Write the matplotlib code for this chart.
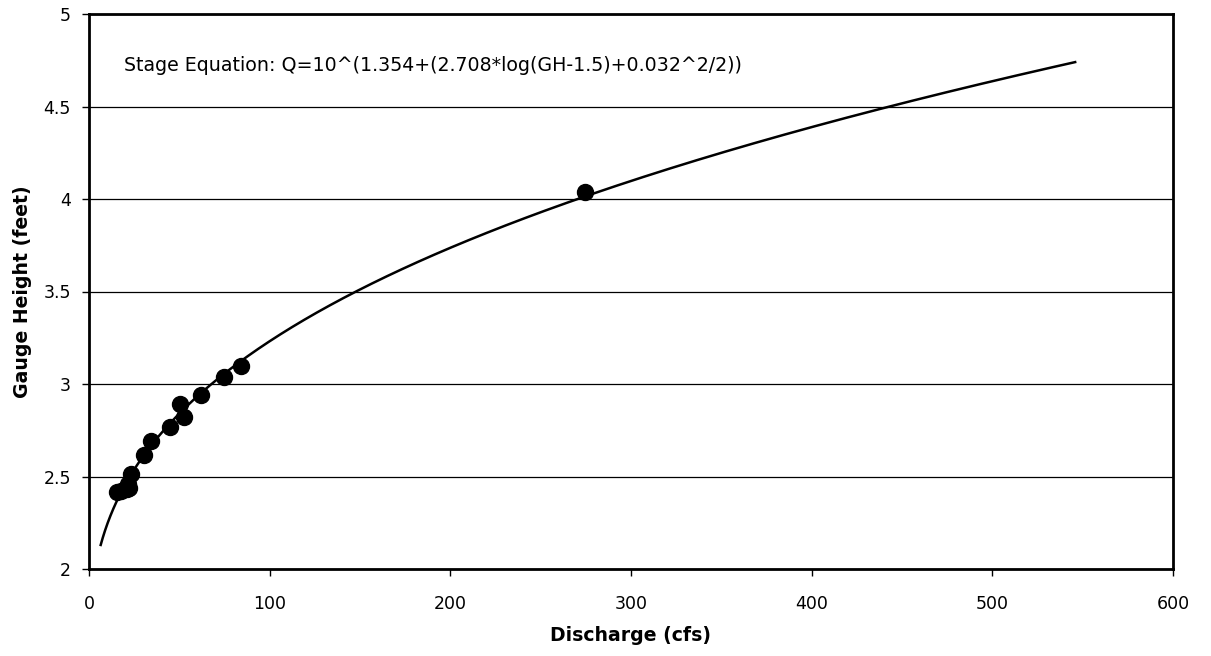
import numpy as np
import matplotlib
matplotlib.use("Agg")
import matplotlib.pyplot as plt

# Observed measurements (discharge cfs, gauge height ft)
discharge = [15.7, 17.5, 21.0, 21.5, 22.0, 23.4, 30.5, 34.1, 44.8, 50.2, 52.6, 61.8, 74.5, 83.9, 274.5]
gauge_height = [2.415, 2.42, 2.43, 2.46, 2.44, 2.515, 2.615, 2.69, 2.765, 2.89, 2.82, 2.94, 3.04, 3.10, 4.04]

# Rating curve parameters (from the stage equation shown in the chart)
a_coef = 1.354
b_coef = 2.708
offset = 1.5
se = 0.032
gh_min, gh_max = 2.13, 4.74

x_ticks = [0, 100, 200, 300, 400, 500, 600]
y_ticks = [2, 2.5, 3, 3.5, 4, 4.5, 5]
y_tick_labels = ["2", "2.5", "3", "3.5", "4", "4.5", "5"]

fig = plt.figure(figsize=(12.11, 6.56), dpi=100)
ax = fig.add_axes([89/1211, 1 - 569/656, (1173-89)/1211, (569-14)/656])

gh = np.linspace(gh_min, gh_max, 400)
q = 10 ** (a_coef + (b_coef * np.log10(gh - offset) + se**2 / 2))
ax.plot(q, gh, color="black", lw=1.8, zorder=3)
ax.plot(discharge, gauge_height, "o", color="black", ms=11.5, zorder=4)

ax.set_xlim(0, 600)
ax.set_ylim(2, 5)
ax.set_xticks(x_ticks)
ax.set_yticks(y_ticks)
ax.set_yticklabels(y_tick_labels)
ax.yaxis.grid(True, color="black", lw=0.9)
ax.set_axisbelow(True)
for s in ax.spines.values():
    s.set_linewidth(2)
    s.set_color("black")
ax.tick_params(axis="both", direction="out", length=5, width=1, labelsize=12.5, colors="black")
ax.tick_params(axis="x", pad=14)
ax.tick_params(axis="y", pad=8)

ax.set_xlabel("Discharge (cfs)", fontsize=13.6, fontweight="bold", labelpad=9)
ax.set_ylabel("Gauge Height (feet)", fontsize=13.6, fontweight="bold", labelpad=8)

ax.text(19.4, 4.72, "Stage Equation: Q=10^(1.354+(2.708*log(GH-1.5)+0.032^2/2))",
        fontsize=13.7, ha="left", va="center")

fig.savefig("out.png", dpi=100)
